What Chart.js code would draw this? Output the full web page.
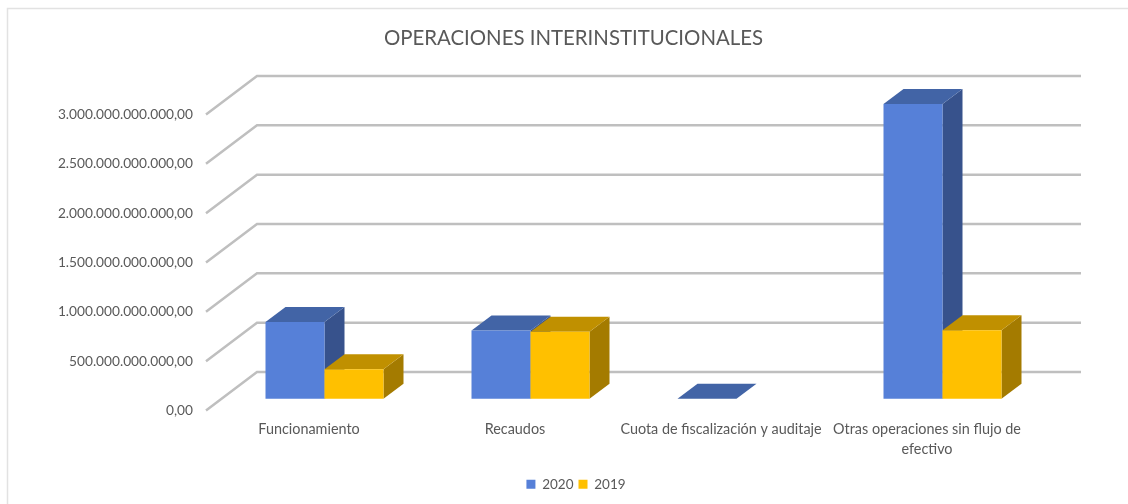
<!DOCTYPE html>
<html><head><meta charset="utf-8">
<style>html,body{margin:0;padding:0;background:#fff}#w{position:absolute;left:0;top:0;width:1128px;height:504px}</style>
<script src="https://cdn.jsdelivr.net/npm/chart.js@4"></script>
</head><body><div id="w"><canvas id="c" width="1128" height="504"></canvas></div>
<script>
const categories = ["Funcionamiento","Recaudos","Cuota de fiscalización y auditaje",["Otras operaciones sin flujo de","efectivo"]];
const seriesNames = ["2020","2019"];
const values2020 = [778000000000,692000000000,1000000000,2986000000000];
const values2019 = [300000000000,678000000000,0,693000000000];
const colors = {front:["#5680D8","#FFC000"],top:["#4264A6","#C09000"],side:["#37528C","#A47B00"]};
const FONT = "Lato, 'Open Sans', sans-serif";
const DEPTH = {x:51,y:38.5,bx:20,by:15};

function fmt(v){
  const s = Math.round(v).toString().replace(/\B(?=(\d{3})+(?!\d))/g,".");
  return s+",00";
}
const floor3d = {
  id:"floor3d",
  afterLayout(ch){
    ch.titleBlock.left=19; ch.titleBlock.right=1128;
    ch.legend.left=24; ch.legend.right=1128;
  },
  beforeDatasetsDraw(ch){
    const {ctx,scales:{y},chartArea:a}=ch;
    ctx.save();
    ctx.strokeStyle="#BFBFBF";ctx.lineWidth=2.5;ctx.lineJoin="miter";
    y.ticks.forEach(t=>{
      const p=y.getPixelForValue(t.value);
      ctx.beginPath();
      ctx.moveTo(a.left,p);
      ctx.lineTo(a.left+DEPTH.x,p-DEPTH.y);
      ctx.lineTo(a.right+DEPTH.x,p-DEPTH.y);
      ctx.stroke();
    });
    ctx.restore();
    const ox=(DEPTH.x-DEPTH.bx)/2, oy=(DEPTH.y-DEPTH.by)/2;
    ch.data.datasets.forEach((ds,i)=>{
      const meta=ch.getDatasetMeta(i);
      ctx.save();
      ctx.translate(ox,-oy);
      meta.data.forEach((b,k)=>{
        const v=ds.data[k];
        if(!v) return;
        const l=b.x-b.width/2,r=b.x+b.width/2,t=b.y,base=b.base,dx=DEPTH.bx,dy=DEPTH.by;
        ctx.fillStyle=colors.side[i];
        ctx.beginPath();ctx.moveTo(r,t);ctx.lineTo(r+dx,t-dy);ctx.lineTo(r+dx,base-dy);ctx.lineTo(r,base);ctx.closePath();ctx.fill();
        ctx.fillStyle=colors.top[i];
        ctx.beginPath();ctx.moveTo(l,t);ctx.lineTo(l+dx,t-dy);ctx.lineTo(r+dx,t-dy);ctx.lineTo(r,t);ctx.closePath();ctx.fill();
      });
      meta.controller.draw();
      ctx.restore();
    });
    return false;
  },
  afterDraw(ch){
    const c=ch.ctx;c.save();c.strokeStyle="#E2E2E2";c.lineWidth=1.5;
    c.beginPath();c.moveTo(7.5,504);c.lineTo(7.5,8.5);c.lineTo(1128,8.5);c.stroke();c.restore();
  }
};
new Chart(document.getElementById("c"),{
  type:"bar",
  data:{labels:categories,datasets:[
    {label:seriesNames[0],data:values2020,backgroundColor:colors.front[0]},
    {label:seriesNames[1],data:values2019,backgroundColor:colors.front[1]}
  ]},
  plugins:[floor3d],
  options:{
    responsive:false,animation:false,
    devicePixelRatio:1,
    layout:{padding:{left:0,right:98,top:0,bottom:3}},
    datasets:{bar:{categoryPercentage:0.5728,barPercentage:1,borderWidth:0}},
    plugins:{
      tooltip:{enabled:false},
      title:{display:true,text:"OPERACIONES INTERINSTITUCIONALES",color:"#595959",
        font:{family:FONT,size:20.4,weight:"normal"},padding:{top:26,bottom:64}},
      legend:{position:"bottom",align:"center",
        labels:{boxWidth:9,boxHeight:9,color:"#595959",font:{family:FONT,size:13.5},padding:5}}
    },
    scales:{
      x:{grid:{display:false},border:{display:false},
        ticks:{color:"#595959",font:{family:FONT,size:14.4,lineHeight:1.4},maxRotation:0,autoSkip:false,padding:1},
        afterFit(s){s.height=62;}},
      y:{min:0,max:3000000000000,
        grid:{display:false},border:{display:false},
        ticks:{stepSize:500000000000,color:"#595959",font:{family:FONT,size:13.7},padding:5,callback:v=>fmt(v)},
        afterFit(s){s.width=206;}}
    }
  }
});
</script></body></html>
